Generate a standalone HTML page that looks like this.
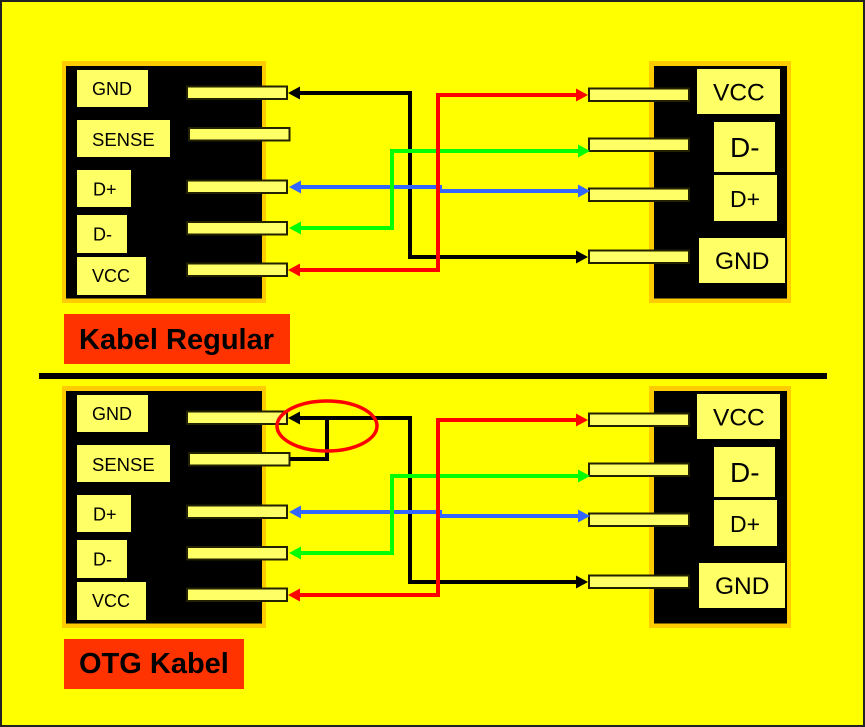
<!DOCTYPE html>
<html>
<head>
<meta charset="utf-8">
<style>
html,body{margin:0;padding:0;background:#ffff00;width:865px;height:727px;overflow:hidden}
svg{display:block}
text{font-family:"Liberation Sans",Arial,sans-serif;fill:#000}
.b{shape-rendering:crispEdges}
.p{fill:#ffff66;stroke:#222200;stroke-width:2}
.l{fill:#ffff66}
.o{fill:#ffcc00}
.w{fill:none;stroke-width:4;stroke-linejoin:miter}
</style>
</head>
<body>
<svg width="865" height="727" viewBox="0 0 865 727" xmlns="http://www.w3.org/2000/svg">
<rect width="865" height="727" fill="#ffff00"/>
<rect x="1" y="1" width="863" height="725" fill="none" stroke="#222" stroke-width="2"/>

<!-- TOP -->
<g>
<rect class="o b" x="62" y="61" width="204" height="242"/>
<rect class="b" x="66" y="66" width="196" height="232.500" fill="#000"/>
<rect class="l b" x="77" y="70" width="71" height="37"/>
<rect class="l b" x="77" y="120" width="93" height="37"/>
<rect class="l b" x="77" y="170" width="54" height="37"/>
<rect class="l b" x="77" y="215" width="50" height="38"/>
<rect class="l b" x="77" y="257" width="69" height="38"/>
<text x="92" y="95" font-size="18">GND</text>
<text x="92" y="146" font-size="18.500">SENSE</text>
<text x="93" y="195.500" font-size="18">D+</text>
<text x="93" y="240.500" font-size="18">D-</text>
<text x="92" y="282" font-size="18">VCC</text>
<rect class="p" x="187" y="86.500" width="100" height="12.500"/>
<rect class="p" x="189" y="128" width="100.500" height="12.500"/>
<rect class="p" x="187" y="180.500" width="100" height="12.500"/>
<rect class="p" x="187" y="222" width="100" height="12.500"/>
<rect class="p" x="187" y="263.500" width="100" height="12.500"/>

<rect class="o b" x="649" y="61" width="142" height="242"/>
<rect class="b" x="654" y="66" width="133" height="232.500" fill="#000"/>
<rect class="l b" x="697" y="69" width="83" height="45"/>
<rect class="l b" x="714" y="122" width="61" height="50"/>
<rect class="l b" x="714" y="175" width="63" height="46"/>
<rect class="l b" x="699" y="238" width="86" height="45"/>
<text x="713" y="100.500" font-size="24.500">VCC</text>
<text x="730" y="157" font-size="28">D-</text>
<text x="730" y="207" font-size="23">D+</text>
<text x="715" y="269" font-size="24.500">GND</text>
<rect class="p" x="589" y="88.500" width="100" height="12.500"/>
<rect class="p" x="589" y="138.500" width="100" height="12.500"/>
<rect class="p" x="589" y="188.500" width="100" height="12.500"/>
<rect class="p" x="589" y="250.500" width="100" height="12.500"/>

<polyline class="w" stroke="#000" points="298,93 410,93 410,257 578,257"/>
<polygon points="288,93 300,86.500 300,99.500" fill="#000"/>
<polygon points="588,257 576,250.500 576,263.500" fill="#000"/>
<polyline class="w" stroke="#3366ff" points="298,187 440,187 440,191 578,191"/>
<polygon points="289,187 301,180.500 301,193.500" fill="#3366ff"/>
<polygon points="590,191 578,184.500 578,197.500" fill="#3366ff"/>
<polyline class="w" stroke="#00ff00" points="298,228 392,228 392,151 580,151"/>
<polygon points="289,228 301,221.500 301,234.500" fill="#00ff00"/>
<polygon points="590,151 578,144.500 578,157.500" fill="#00ff00"/>
<polyline class="w" stroke="#ff0000" points="298,270 438,270 438,95 578,95"/>
<polygon points="288,270 300,263.500 300,276.500" fill="#ff0000"/>
<polygon points="588,95 576,88.500 576,101.500" fill="#ff0000"/>

<rect class="b" x="64" y="314" width="226" height="50" fill="#ff3300"/>
<text x="79" y="349" font-size="29" font-weight="bold">Kabel Regular</text>
</g>

<rect class="b" x="39" y="373" width="788" height="6" fill="#000"/>

<!-- BOTTOM -->
<g transform="translate(0,325)">
<rect class="o b" x="62" y="61" width="204" height="242"/>
<rect class="b" x="66" y="66" width="196" height="232.500" fill="#000"/>
<rect class="l b" x="77" y="70" width="71" height="37"/>
<rect class="l b" x="77" y="120" width="93" height="37"/>
<rect class="l b" x="77" y="170" width="54" height="37"/>
<rect class="l b" x="77" y="215" width="50" height="38"/>
<rect class="l b" x="77" y="257" width="69" height="38"/>
<text x="92" y="95" font-size="18">GND</text>
<text x="92" y="146" font-size="18.500">SENSE</text>
<text x="93" y="195.500" font-size="18">D+</text>
<text x="93" y="240.500" font-size="18">D-</text>
<text x="92" y="282" font-size="18">VCC</text>
<rect class="p" x="187" y="86.500" width="100" height="12.500"/>
<rect class="p" x="189" y="128" width="100.500" height="12.500"/>
<rect class="p" x="187" y="180.500" width="100" height="12.500"/>
<rect class="p" x="187" y="222" width="100" height="12.500"/>
<rect class="p" x="187" y="263.500" width="100" height="12.500"/>

<rect class="o b" x="649" y="61" width="142" height="242"/>
<rect class="b" x="654" y="66" width="133" height="232.500" fill="#000"/>
<rect class="l b" x="697" y="69" width="83" height="45"/>
<rect class="l b" x="714" y="122" width="61" height="50"/>
<rect class="l b" x="714" y="175" width="63" height="46"/>
<rect class="l b" x="699" y="238" width="86" height="45"/>
<text x="713" y="100.500" font-size="24.500">VCC</text>
<text x="730" y="157" font-size="28">D-</text>
<text x="730" y="207" font-size="23">D+</text>
<text x="715" y="269" font-size="24.500">GND</text>
<rect class="p" x="589" y="88.500" width="100" height="12.500"/>
<rect class="p" x="589" y="138.500" width="100" height="12.500"/>
<rect class="p" x="589" y="188.500" width="100" height="12.500"/>
<rect class="p" x="589" y="250.500" width="100" height="12.500"/>

<polyline class="w" stroke="#000" points="298,93 410,93 410,257 578,257"/>
<polyline class="w" stroke="#000" points="327,93 327,134 290,134"/>
<polygon points="288,93 300,86.500 300,99.500" fill="#000"/>
<polygon points="588,257 576,250.500 576,263.500" fill="#000"/>
<polyline class="w" stroke="#3366ff" points="298,187 440,187 440,191 578,191"/>
<polygon points="289,187 301,180.500 301,193.500" fill="#3366ff"/>
<polygon points="590,191 578,184.500 578,197.500" fill="#3366ff"/>
<polyline class="w" stroke="#00ff00" points="298,228 392,228 392,151 580,151"/>
<polygon points="289,228 301,221.500 301,234.500" fill="#00ff00"/>
<polygon points="590,151 578,144.500 578,157.500" fill="#00ff00"/>
<polyline class="w" stroke="#ff0000" points="298,270 438,270 438,95 578,95"/>
<polygon points="288,270 300,263.500 300,276.500" fill="#ff0000"/>
<polygon points="588,95 576,88.500 576,101.500" fill="#ff0000"/>

<ellipse cx="327" cy="101" rx="50" ry="25" fill="none" stroke="#ff0000" stroke-width="3.500"/>

<rect class="b" x="64" y="314" width="180" height="50" fill="#ff3300"/>
<text x="79" y="348" font-size="29" font-weight="bold">OTG Kabel</text>
</g>
</svg>
</body>
</html>
